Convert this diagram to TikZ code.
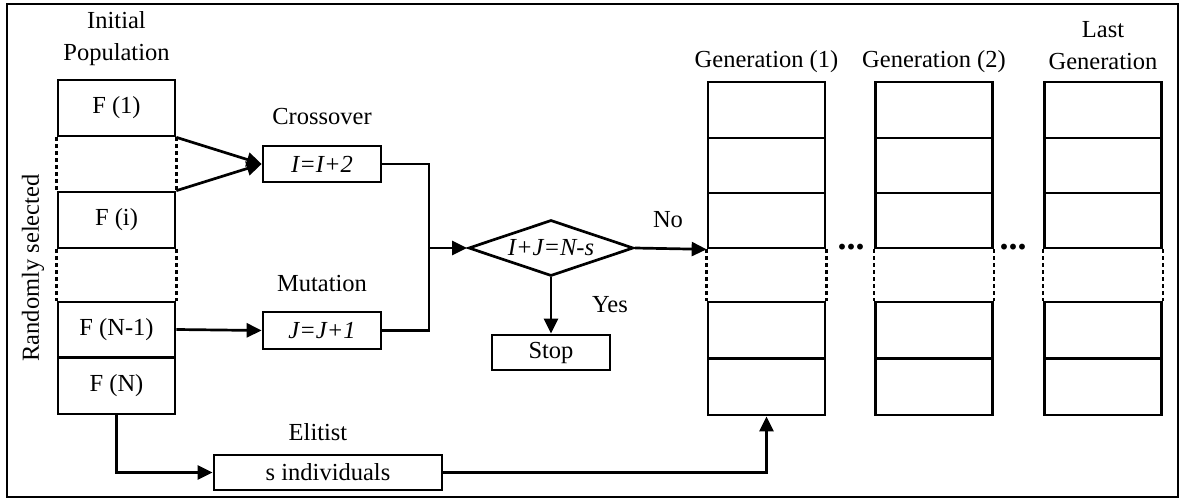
\documentclass[tikz,border=0pt]{standalone}
\usepackage{fontspec}
\setmainfont{Liberation Serif}
\usetikzlibrary{shapes.geometric,arrows.meta}
\begin{document}
\begin{tikzpicture}[x=1pt,y=-1pt,
  every node/.style={font=\fontsize{24.5}{32}\selectfont},
  cell/.style={draw,line width=2.7pt,minimum width=117pt,minimum height=56pt,inner sep=0pt},
  opbox/.style={draw,line width=2.7pt,minimum width=118pt,minimum height=36pt,inner sep=0pt},
  lbl/.style={inner sep=0pt},
  conn/.style={line width=2.7pt},
  arr/.style={conn,-{Triangle[length=15pt,width=14pt]}},
  dotline/.style={line width=2.6pt,dash pattern=on 4pt off 3pt},
]
\useasboundingbox (0,0) rectangle (1184,500);
\draw[line width=2.2pt] (7,4) rectangle (1178,497);

% initial population
\node[lbl,align=center] (initpop) at (116.5,39) {Initial\\Population};
\node[lbl,rotate=90] (rand) at (33,268) {Randomly selected};
\node[cell] (f1) at (116.5,108) {F (1)};
\node[cell] (fi) at (116.5,220) {F (i)};
\node[cell,minimum height=55pt] (fn1) at (116.5,329.5) {F (N-1)};
\node[cell] (fn) at (116.5,386) {F (N)};
\draw[dotline] (f1.south west) -- (fi.north west);
\draw[dotline] (f1.south east) -- (fi.north east);
\draw[dotline] (fi.south west) -- (fn1.north west);
\draw[dotline] (fi.south east) -- (fn1.north east);

% operators
\node[lbl] (crosslbl) at (322,117) {Crossover};
\node[opbox] (cross) at (322,164) {\textit{I=I+2}};
\node[lbl] (mutlbl) at (322,284) {Mutation};
\node[opbox,minimum height=37pt] (mut) at (322,330.5) {\textit{J=J+1}};
\node[diamond,draw,line width=2.7pt,inner sep=0pt,aspect=3,minimum width=165pt,minimum height=56pt] (dia) at (551,248) {\textit{I+J=N-s}};
\node[opbox,minimum height=35pt] (stop) at (551,352.5) {Stop};
\node[lbl] (elitlbl) at (318,432) {Elitist};
\node[opbox,minimum width=228pt,minimum height=35pt] (elite) at (328,472.5) {s individuals};

% generations
\foreach \c/\x in {g1/766.5, g2/934, g3/1103} {
  \node[cell] (\c-a) at (\x,110) {};
  \node[cell,minimum height=55pt] (\c-b) at (\x,165.5) {};
  \node[cell,minimum height=55pt] (\c-c) at (\x,220.5) {};
  \node[cell] (\c-d) at (\x,330) {};
  \node[cell] (\c-e) at (\x,387) {};
  \draw[dotline] (\c-c.south west) -- (\c-d.north west);
  \draw[dotline] (\c-c.south east) -- (\c-d.north east);
}
\node[lbl] (gen1lbl) at (766.5,62) {Generation (1)};
\node[lbl] (gen2lbl) at (934,62) {Generation (2)};
\node[lbl,align=center] (lastlbl) at (1103,46) {Last\\Generation};
\node[lbl,font=\fontsize{36}{36}\selectfont\bfseries] (dots1) at (851,247) {...};
\node[lbl,font=\fontsize{36}{36}\selectfont\bfseries] (dots2) at (1013,247) {...};

% connectors
\draw[arr] (f1.south east) -- (cross.west);
\draw[arr] (fi.north east) -- (cross.west);
\draw[arr] (fn1.east) -- (mut.west);
\coordinate (join) at (429,248);
\draw[conn] (cross.east) -| (join);
\draw[conn] (mut.east) -| (join);
\draw[arr] (join) -- (dia.west);
\draw[arr] (dia.east) -- (g1-c.south west);
\node[lbl] (nolbl) at (668,220) {No};
\draw[arr] (dia.south) -- (stop.north);
\node[lbl] (yeslbl) at (610,305) {Yes};
\draw[arr] (fn.south) |- (elite.west);
\draw[arr] (elite.east) -| (g1-e.south);
\end{tikzpicture}
\end{document}
